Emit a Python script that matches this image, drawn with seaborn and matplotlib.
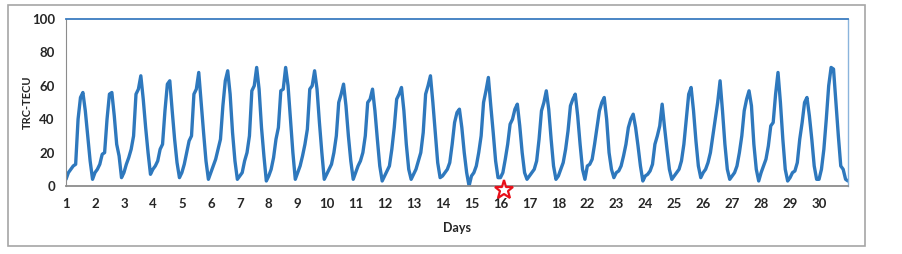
import numpy as np
import pandas as pd
import matplotlib.pyplot as plt
import seaborn as sns
from matplotlib.patches import Rectangle

# TEC values read every 2 hours (h0, h2, ..., h22), one row per day
dia_01 = [4, 8, 10, 12, 13, 40, 53, 56, 45, 30, 15, 4]
dia_02 = [8, 10, 13, 19, 20, 40, 55, 56, 42, 25, 18, 5]
dia_03 = [8, 13, 17, 22, 30, 55, 58, 66, 52, 35, 20, 7]
dia_04 = [10, 12, 15, 22, 25, 45, 61, 63, 45, 28, 14, 5]
dia_05 = [8, 13, 20, 27, 30, 55, 58, 68, 50, 32, 15, 4]
dia_06 = [8, 12, 16, 22, 28, 48, 63, 69, 55, 32, 15, 4]
dia_07 = [6, 8, 15, 20, 30, 57, 60, 71, 58, 35, 18, 3]
dia_08 = [6, 10, 17, 28, 35, 57, 58, 71, 60, 40, 20, 4]
dia_09 = [8, 12, 18, 25, 34, 58, 60, 69, 58, 38, 20, 4]
dia_10 = [7, 10, 13, 20, 30, 50, 55, 61, 48, 30, 15, 4]
dia_11 = [8, 12, 15, 20, 30, 50, 52, 58, 45, 28, 12, 3]
dia_12 = [6, 9, 12, 22, 35, 52, 55, 59, 45, 25, 10, 4]
dia_13 = [7, 10, 15, 20, 32, 55, 60, 66, 50, 32, 14, 5]
dia_14 = [6, 8, 10, 14, 25, 38, 44, 46, 35, 20, 8, 0]
dia_15 = [6, 8, 12, 20, 30, 50, 57, 65, 48, 32, 15, 5]
dia_16 = [5, 8, 16, 25, 37, 40, 46, 49, 36, 20, 8, 4]
dia_17 = [6, 8, 10, 15, 28, 45, 50, 57, 46, 28, 12, 4]
dia_18 = [6, 10, 14, 22, 33, 48, 52, 55, 42, 25, 10, 4]
dia_22 = [12, 13, 16, 25, 35, 45, 50, 53, 40, 20, 10, 5]
dia_23 = [8, 9, 12, 18, 25, 35, 40, 43, 35, 24, 12, 3]
dia_24 = [6, 7, 9, 13, 25, 30, 36, 49, 35, 22, 10, 4]
dia_25 = [6, 8, 10, 15, 25, 40, 55, 59, 45, 27, 12, 5]
dia_26 = [8, 10, 14, 20, 30, 40, 50, 63, 45, 25, 10, 4]
dia_27 = [6, 8, 12, 20, 30, 45, 52, 57, 48, 25, 10, 3]
dia_28 = [8, 12, 16, 24, 36, 38, 55, 68, 50, 28, 10, 3]
dia_29 = [5, 8, 9, 14, 28, 38, 50, 53, 42, 28, 12, 4]
dia_30 = [4, 10, 22, 40, 60, 71, 70, 50, 30, 12, 10, 4]
fin = [3]

dias = [dia_01, dia_02, dia_03, dia_04, dia_05, dia_06, dia_07, dia_08, dia_09,
        dia_10, dia_11, dia_12, dia_13, dia_14, dia_15, dia_16, dia_17, dia_18,
        dia_22, dia_23, dia_24, dia_25, dia_26, dia_27, dia_28, dia_29, dia_30]

etiquetas_x = [str(d) for d in list(range(1, 19)) + list(range(22, 31))]
dia_estrella = 15.14

tec = np.concatenate(dias + [fin])
df = pd.DataFrame({'t': np.arange(len(tec)) / 12, 'tec': tec})

sns.set_style('white')
plt.rcParams['font.family'] = ['Lato', 'DejaVu Sans']

fig = plt.figure(figsize=(9.02, 2.54), dpi=100)
ax = fig.add_axes([66 / 902, 68 / 254, 782 / 902, 167 / 254])

sns.lineplot(data=df, x='t', y='tec', ax=ax, color='#2e78bd', linewidth=2.4)

ax.set_xlim(0, 27)
ax.set_ylim(0, 100)
ax.set_xticks(range(len(etiquetas_x)))
ax.set_xticklabels(etiquetas_x)
ax.set_yticks(range(0, 101, 20))
ax.tick_params(axis='x', length=0, pad=9, labelsize=9.5)
ax.tick_params(axis='y', length=4, width=1, color='#888888', direction='out', pad=4, labelsize=9.5)
for lab in ax.get_xticklabels() + ax.get_yticklabels():
    lab.set_fontweight('bold')

ax.set_xlabel('Days', fontsize=9, fontweight='bold', labelpad=8)
ax.set_ylabel('TRC-TECU', fontsize=8, fontweight='bold')
ax.yaxis.set_label_coords(-33 / 782, 0.5)

ax.spines['left'].set_color('#8c8c8c')
ax.spines['bottom'].set_color('#8c8c8c')
ax.spines['bottom'].set_linewidth(1.3)
ax.spines['top'].set_color('#3a7cc0')
ax.spines['top'].set_linewidth(1.3)
ax.spines['right'].set_color('#8ab4dc')
ax.spines['right'].set_linewidth(1.0)

ax.plot([dia_estrella], [-2.5], marker='*', markersize=14, markerfacecolor='white',
        markeredgecolor='#e8101a', markeredgewidth=1.6, clip_on=False, zorder=5)

fig.patches.append(Rectangle((8 / 902, 8 / 254), 857 / 902, 241 / 254,
                             transform=fig.transFigure, fill=False,
                             edgecolor='#a6a6a6', linewidth=1.2))

fig.savefig('out.png', dpi=100)
